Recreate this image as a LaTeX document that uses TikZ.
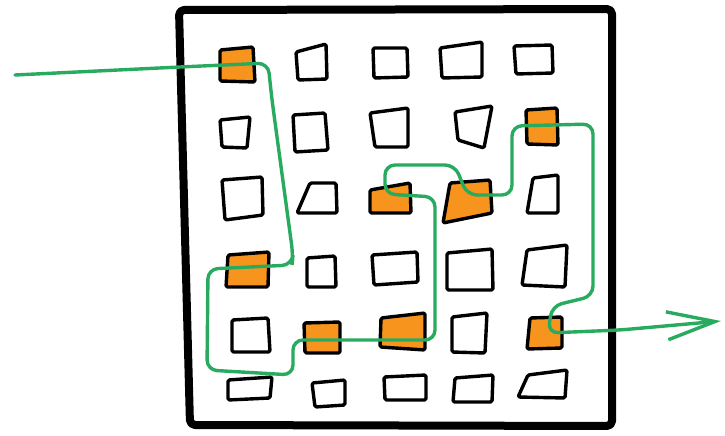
\documentclass[tikz,border=0pt]{standalone}
\usepackage{tikz}
\usetikzlibrary{arrows.meta}

\definecolor{hotorange}{RGB}{247,148,30}
\definecolor{routegreen}{RGB}{40,170,95}

\begin{document}
\begin{tikzpicture}[
    x=1pt, y=-1pt,
    frame/.style={draw=black, line width=8pt, line join=round, rounded corners=5pt},
    cell/.style={draw=black, line width=3.4pt, line join=round, rounded corners=1.5pt},
    hot/.style={cell, fill=hotorange},
    route/.style={draw=routegreen, line width=3.4pt, rounded corners=10pt, line cap=round},
]
\useasboundingbox (0,0) rectangle (725,436);

% Outer frame
\draw[frame] (179,10) -- (612,9) -- (612,426) -- (190,425) -- cycle;

% Empty cells (top-left, top-right, bottom-right, bottom-left)
\foreach \a/\b/\c/\d/\e/\f/\g/\h in {
    296/52/326/44/327/79/298/80,
    373/48/407/48/408/77/374/78,
    440/48/482/42/482/77/442/78,
    514/46/552/45/553/73/516/74,
    220/120/250/117/247/148/222/147,
    293/115/325/113/328/150/295/152,
    370/113/408/108/408/147/375/147,
    455/112/492/106/484/148/458/140,
    222/180/262/177/263/215/225/220,
    310/183/336/183/337/213/297/213,
    533/178/558/175/558/213/527/213,
    307/258/335/256/336/287/307/287,
    372/255/417/252/418/282/374/285,
    447/253/492/249/493/290/447/290,
    527/250/567/245/565/287/522/285,
    232/320/268/318/270/352/232/352,
    452/317/487/313/485/353/452/352,
    228/380/272/377/270/398/228/400,
    312/383/345/380/345/405/315/407,
    384/377/426/375/426/400/385/400,
    455/378/493/375/492/402/453/402,
    528/375/567/370/565/398/518/397}
  \draw[cell] (\a,\b) -- (\c,\d) -- (\e,\f) -- (\g,\h) -- cycle;

% Visited cells
\foreach \a/\b/\c/\d/\e/\f/\g/\h in {
    220/50/253/47/255/82/220/81,
    526/110/557/108/558/145/527/144,
    370/190/410/183/411/213/370/213,
    450/183/490/180/492/213/443/223,
    228/255/269/252/268/287/226/287,
    304/323/340/322/340/353/305/353,
    381/318/425/313/425/350/380/347,
    530/318/562/317/562/348/527/349}
  \draw[hot] (\a,\b) -- (\c,\d) -- (\e,\f) -- (\g,\h) -- cycle;

% Route through the grid
\draw[route, -{Straight Barb[length=48pt, width=28pt]}]
    (15,75) -- (180,67) -- (268,63) -- (272,100) -- (293,255) -- (292,265)
    -- (208,269) -- (207,370) -- (293,375) -- (293,340) -- (435,340)
    -- (435,197) -- (385,194) -- (385,165) -- (455,165) -- (467,195)
    -- (512,195) -- (512,126) -- (593,124) -- (593,296) -- (552,306)
    -- (548,333) -- (620,330) -- (721,321);

\end{tikzpicture}
\end{document}
